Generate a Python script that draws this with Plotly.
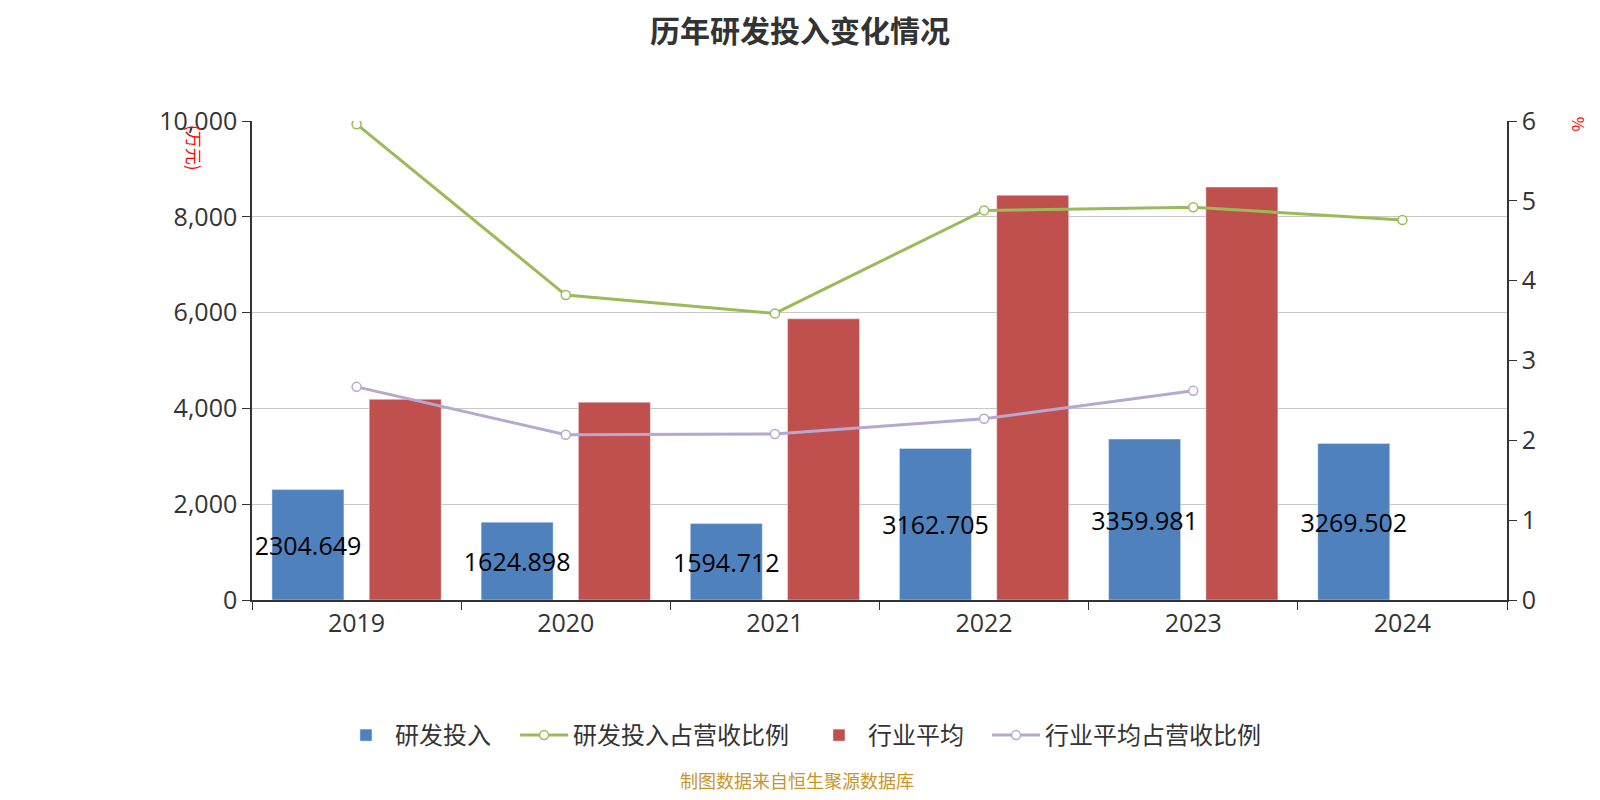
import plotly.graph_objects as go

years = ["2019", "2020", "2021", "2022", "2023", "2024"]
rd_invest = [2304.649, 1624.898, 1594.712, 3162.705, 3359.981, 3269.502]
rd_ratio = [5.96, 3.82, 3.59, 4.88, 4.92, 4.76]
ind_avg = [4190, 4130, 5870, 8450, 8620, None]
ind_ratio = [2.67, 2.07, 2.08, 2.27, 2.62, None]
rd_labels = ["2304.649", "1624.898", "1594.712", "3162.705", "3359.981", "3269.502"]

FONT = "Open Sans, Noto Sans CJK SC, sans-serif"
CJK = "Noto Sans CJK SC, sans-serif"

fig = go.Figure()
fig.add_trace(go.Bar(
    x=years, y=rd_invest, name="研发投入", marker=dict(color="#4f81bd"),
    text=rd_labels, textposition="inside", insidetextanchor="middle",
    constraintext="none", textangle=0,
    textfont=dict(color="#000000", size=25, family=FONT),
    yaxis="y", legend="legend",
))
fig.add_trace(go.Scatter(
    x=years, y=rd_ratio, name="研发投入占营收比例", mode="lines+markers",
    line=dict(color="#9bbb59", width=3),
    marker=dict(symbol="circle", size=9, color="#ffffff", line=dict(color="#9bbb59", width=1.5)),
    yaxis="y2", legend="legend2",
))
fig.add_trace(go.Bar(
    x=years, y=ind_avg, name="行业平均", marker=dict(color="#c0504d"),
    yaxis="y", legend="legend3",
))
fig.add_trace(go.Scatter(
    x=years, y=ind_ratio, name="行业平均占营收比例", mode="lines+markers",
    line=dict(color="#b7a8d0", width=3),
    marker=dict(symbol="circle", size=9, color="#ffffff", line=dict(color="#b7a8d0", width=1.5)),
    yaxis="y2", legend="legend4",
))

def leg(x):
    return dict(orientation="h", x=x, xanchor="left", y=-0.2829, yanchor="middle",
                font=dict(family=CJK, size=24, color="#333333"), itemwidth=48,
                bgcolor="rgba(0,0,0,0)", visible=True)

fig.update_layout(
    width=1584, height=784,
    showlegend=True,
    margin=dict(l=244, r=85, t=113, b=192),
    paper_bgcolor="#ffffff", plot_bgcolor="#ffffff",
    barmode="group", bargap=0.07, bargroupgap=0.26,
    font=dict(family=FONT, color="#333333"),
    title=dict(text="<b>历年研发投入变化情况</b>", x=0.5, xanchor="center", y=0.970, yanchor="middle",
               font=dict(family=CJK, size=30, color="#333333")),
    xaxis=dict(
        showline=True, linecolor="#333333", linewidth=1.5,
        ticks="outside", tickson="boundaries", ticklen=8, tickcolor="#333333",
        tickfont=dict(size=25, color="#333333"), showgrid=False,
    ),
    yaxis=dict(
        range=[0, 10000], dtick=2000, tickformat=",d",
        showline=True, linecolor="#333333", linewidth=1.5,
        ticks="outside", ticklen=8, tickcolor="#333333",
        tickfont=dict(size=25, color="#333333"),
        showgrid=True, gridcolor="#c8c8c8", gridwidth=1.2, zeroline=False,
    ),
    yaxis2=dict(
        range=[0, 6], dtick=1, overlaying="y", side="right",
        showline=True, linecolor="#333333", linewidth=1.5,
        ticks="outside", ticklen=8, tickcolor="#333333",
        tickfont=dict(size=25, color="#333333"),
        showgrid=False, zeroline=False,
    ),
    legend=leg(0.0677),
    legend2=leg(0.2096),
    legend3=leg(0.4446),
    legend4=leg(0.5857),
    annotations=[
        dict(text="(万元)", xref="paper", yref="paper", x=-0.0455, y=0.9958, xanchor="center", yanchor="top",
             textangle=90, showarrow=False, font=dict(family=CJK, size=17, color="#ff0000")),
        dict(text="%", xref="paper", yref="paper", x=1.0575, y=0.994, xanchor="center", yanchor="middle",
             textangle=90, showarrow=False, font=dict(family=CJK, size=16, color="#ff0000")),
        dict(text="制图数据来自恒生聚源数据库", xref="paper", yref="paper", x=0.4343, y=-0.375,
             xanchor="center", yanchor="middle", showarrow=False,
             font=dict(family=CJK, size=18, color="#c8952a")),
    ],
)

fig.write_html("out.html")
